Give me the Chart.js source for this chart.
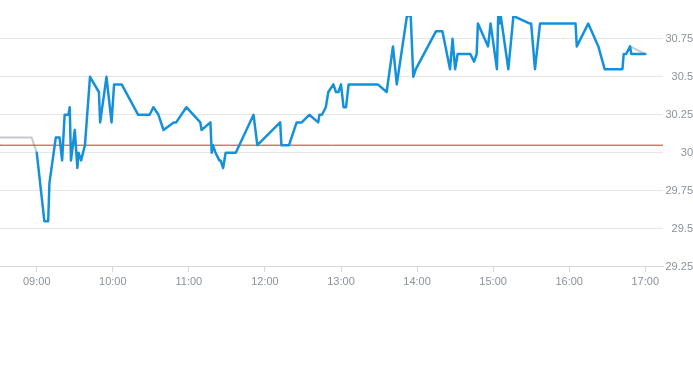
<!DOCTYPE html>
<html>
<head>
<meta charset="utf-8">
<script src="https://cdn.jsdelivr.net/npm/chart.js@4.4.1/dist/chart.umd.min.js"></script>
<style>
  html, body { margin: 0; padding: 0; background: #fff; }
  #wrap { width: 693px; height: 365px; position: relative; }
</style>
</head>
<body>
<div id="wrap"><canvas id="priceChart"></canvas></div>
<script>
// intraday trades (time, price)
const times = ['09:00','09:06','09:09','09:10','09:15','09:18','09:20','09:22','09:25','09:26','09:27','09:30','09:32','09:33','09:35','09:38','09:42','09:49','09:50','09:55','09:59',
  '10:01','10:07','10:20','10:29','10:32','10:36','10:40','10:48','10:50','10:58',
  '11:09','11:10','11:17','11:18','11:19','11:21','11:24','11:25','11:27','11:29','11:37','11:51','11:54',
  '12:12','12:13','12:19','12:25','12:29','12:35','12:42','12:43','12:45','12:48','12:50','12:54','12:56','12:58',
  '13:00','13:02','13:04','13:06','13:29','13:36','13:41','13:44','13:52','13:55','13:57','13:59',
  '14:15','14:20','14:26','14:28','14:30','14:32','14:42','14:45','14:47','14:48','14:56','14:58',
  '15:03','15:04','15:05','15:06','15:12','15:16','15:29','15:30','15:33','15:37',
  '16:05','16:06','16:15','16:23','16:28','16:42','16:43','16:45','16:48','16:49','17:00'];
const prices = [30.0, 29.55, 29.55, 29.8, 30.1, 30.1, 29.95, 30.25, 30.25, 30.3, 29.95, 30.15, 29.9, 30.0, 29.95, 30.05, 30.5, 30.4, 30.2, 30.5, 30.2,
  30.45, 30.45, 30.25, 30.25, 30.3, 30.25, 30.15, 30.2, 30.2, 30.3,
  30.2, 30.15, 30.2, 30.0, 30.05, 30.0, 29.95, 29.95, 29.9, 30.0, 30.0, 30.25, 30.05,
  30.2, 30.05, 30.05, 30.2, 30.2, 30.25, 30.2, 30.25, 30.25, 30.3, 30.4, 30.45, 30.4, 30.4,
  30.45, 30.3, 30.3, 30.45, 30.45, 30.4, 30.7, 30.45, 30.9, 30.9, 30.5, 30.55,
  30.8, 30.8, 30.55, 30.75, 30.55, 30.65, 30.65, 30.6, 30.65, 30.85, 30.7, 30.85,
  30.55, 30.9, 30.85, 30.9, 30.55, 30.9, 30.85, 30.85, 30.55, 30.85,
  30.85, 30.7, 30.85, 30.7, 30.55, 30.55, 30.65, 30.65, 30.7, 30.65, 30.65];

// pre-market and closing auction (grey)
const preTimes = ['08:31', '08:56', '09:00'];
const prePrices = [30.1, 30.1, 30.0];
const postTimes = ['16:48', '17:00'];
const postPrices = [30.7, 30.65];

const prevClose = 30.05;
const xRange = ['08:31', '17:14'];
const xTickLabels = ['09:00','10:00','11:00','12:00','13:00','14:00','15:00','16:00','17:00'];
const yTicks = [29.25, 29.5, 29.75, 30, 30.25, 30.5, 30.75];
const yRange = [29.25, 30.9];

function toMin(t) {
  const p = t.split(':');
  return parseInt(p[0]) * 60 + parseInt(p[1]);
}
function fmtMin(m) {
  const h = Math.floor(m / 60), mm = Math.round(m % 60);
  return String(h).padStart(2, '0') + ':' + String(mm).padStart(2, '0');
}
function pts(ts, vs) {
  return ts.map((t, i) => ({ x: toMin(t), y: vs[i] }));
}

const labelColor = '#8a929b';
const ctx = document.getElementById('priceChart').getContext('2d');
const priceChart = new Chart(ctx, {
  type: 'line',
  data: {
    datasets: [
      { data: pts(times, prices), borderColor: '#1591dc', borderWidth: 2.5 },
      { data: pts(xRange, [prevClose, prevClose]), borderColor: '#d2332a', borderWidth: 1 },
      { data: pts(preTimes, prePrices), borderColor: '#c6c8cb', borderWidth: 2 },
      { data: pts(postTimes, postPrices), borderColor: '#c6c8cb', borderWidth: 2 }
    ]
  },
  options: {
    responsive: true,
    maintainAspectRatio: false,
    animation: false,
    layout: { padding: { top: 16, bottom: 72, left: 0, right: 0 } },
    elements: {
      point: { radius: 0 },
      line: { tension: 0, borderJoinStyle: 'round', borderCapStyle: 'round' }
    },
    plugins: { legend: { display: false }, tooltip: { enabled: false } },
    scales: {
      x: {
        type: 'linear',
        min: toMin(xRange[0]),
        max: toMin(xRange[1]),
        afterBuildTicks: axis => { axis.ticks = xTickLabels.map(t => ({ value: toMin(t) })); },
        grid: { drawOnChartArea: false, drawTicks: true, tickLength: 5, color: '#d3d6da' },
        border: { display: true, color: '#d3d6da' },
        ticks: {
          color: labelColor,
          font: { family: 'Liberation Sans, Arial, sans-serif', size: 11 },
          padding: 4,
          maxRotation: 0,
          callback: v => fmtMin(v)
        }
      },
      y: {
        position: 'right',
        min: yRange[0],
        max: yRange[1],
        afterBuildTicks: axis => { axis.ticks = yTicks.map(v => ({ value: v })); },
        afterFit: axis => { axis.width = 30; },
        grid: { color: '#e4e6e8', drawTicks: false },
        border: { display: false },
        ticks: {
          color: labelColor,
          font: { family: 'Liberation Sans, Arial, sans-serif', size: 11 },
          padding: 2,
          crossAlign: 'far',
          callback: v => String(v)
        }
      }
    }
  }
});
</script>
</body>
</html>
